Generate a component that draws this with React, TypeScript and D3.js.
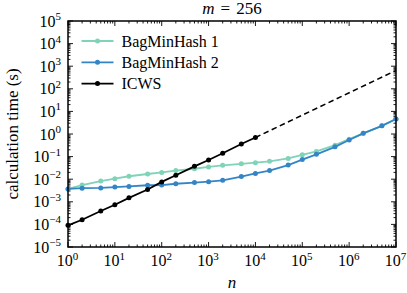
import React from "react";
import * as d3 from "d3";

// set sizes n
const nValues = [
  1, 2, 5, 10, 20, 50, 100, 200, 500, 1e3, 2e3, 5e3, 1e4, 2e4, 5e4, 1e5, 2e5,
  5e5, 1e6, 2e6, 5e6, 1e7,
];
const bagMinHash1 = [
  3.7e-3, 5.5e-3, 8.3e-3, 0.0105, 0.0135, 0.017, 0.02, 0.024, 0.029, 0.035,
  0.041, 0.048, 0.054, 0.062, 0.083, 0.12, 0.17, 0.32, 0.59, 1.07, 2.3, 4.6,
];
const bagMinHash2 = [
  3.7e-3, 4.0e-3, 4.1e-3, 4.5e-3, 4.8e-3, 5.4e-3, 5.5e-3, 6.3e-3, 7.1e-3,
  7.8e-3, 8.9e-3, 0.013, 0.018, 0.024, 0.042, 0.074, 0.126, 0.27, 0.54, 1.07,
  2.3, 4.6,
];
const icwsN = [1, 2, 5, 10, 20, 50, 100, 200, 500, 1e3, 2e3, 5e3, 1e4];
const icws = [
  9.1e-5, 1.6e-4, 3.9e-4, 7.4e-4, 1.5e-3, 3.5e-3, 7.6e-3, 0.015, 0.037, 0.071,
  0.14, 0.36, 0.7,
];
const icwsExtrapN = [1e4, 1e7];
const icwsExtrap = [0.7, 650];

const xExponents = [0, 1, 2, 3, 4, 5, 6, 7];
const yExponents = [-5, -4, -3, -2, -1, 0, 1, 2, 3, 4, 5];

const series = [
  { name: "BagMinHash 1", color: "#7fd3b8", n: nValues, v: bagMinHash1 },
  { name: "BagMinHash 2", color: "#3385c6", n: nValues, v: bagMinHash2 },
  { name: "ICWS", color: "#000000", n: icwsN, v: icws },
];

const W = 407;
const H = 293;
const margin = { top: 21, right: 11, bottom: 46, left: 68 };
const font = "'Liberation Serif', 'DejaVu Serif', serif";

const App: React.FC = () => {
  const iw = W - margin.left - margin.right;
  const ih = H - margin.top - margin.bottom;

  const x = d3.scaleLog().domain([1, 1e7]).range([0, iw]);
  const y = d3.scaleLog().domain([1e-5, 1e5]).range([ih, 0]);

  const line = d3
    .line<[number, number]>()
    .x((d) => x(d[0]))
    .y((d) => y(d[1]));

  const minorX: number[] = [];
  xExponents.slice(0, -1).forEach((e) => {
    for (let k = 2; k <= 9; k++) minorX.push(k * Math.pow(10, e));
  });
  const minorY: number[] = [];
  yExponents.slice(0, -1).forEach((e) => {
    for (let k = 2; k <= 9; k++) minorY.push(k * Math.pow(10, e));
  });

  const major = 5;
  const minor = 2.5;
  const tickFs = 16;
  const supFs = 11;

  return (
    <svg
      width={W}
      height={H}
      style={{ position: "absolute", left: 0, top: 0, background: "#fff" }}
      fontFamily={font}
    >
      <g transform={`translate(${margin.left},${margin.top})`}>
        {/* ticks on all four sides, pointing in */}
        <g stroke="#000" strokeWidth={0.9}>
          {xExponents.map((e) => (
            <g key={"xm" + e}>
              <line x1={x(10 ** e)} x2={x(10 ** e)} y1={ih} y2={ih - major} />
              <line x1={x(10 ** e)} x2={x(10 ** e)} y1={0} y2={major} />
            </g>
          ))}
          {minorX.map((v) => (
            <g key={"xn" + v}>
              <line x1={x(v)} x2={x(v)} y1={ih} y2={ih - minor} />
              <line x1={x(v)} x2={x(v)} y1={0} y2={minor} />
            </g>
          ))}
          {yExponents.map((e) => (
            <g key={"ym" + e}>
              <line x1={0} x2={major} y1={y(10 ** e)} y2={y(10 ** e)} />
              <line x1={iw} x2={iw - major} y1={y(10 ** e)} y2={y(10 ** e)} />
            </g>
          ))}
          {minorY.map((v) => (
            <g key={"yn" + v}>
              <line x1={0} x2={minor} y1={y(v)} y2={y(v)} />
              <line x1={iw} x2={iw - minor} y1={y(v)} y2={y(v)} />
            </g>
          ))}
        </g>

        {/* tick labels */}
        {xExponents.map((e) => (
          <text
            key={"xl" + e}
            x={x(10 ** e) - 0.5}
            y={ih + 19}
            textAnchor="middle"
            fontSize={tickFs}
          >
            10
            <tspan dy={-6.5} fontSize={supFs}>
              {e}
            </tspan>
          </text>
        ))}
        {yExponents.map((e) => (
          <text
            key={"yl" + e}
            x={-7}
            y={y(10 ** e) + 5.5}
            textAnchor="end"
            fontSize={tickFs}
          >
            10
            <tspan dy={-6.5} fontSize={supFs}>
              {e < 0 ? "\u2212" + -e : e}
            </tspan>
          </text>
        ))}

        {/* series */}
        <path
          d={line(icwsExtrapN.map((n, i) => [n, icwsExtrap[i]]) as [number, number][])!}
          fill="none"
          stroke="#000"
          strokeWidth={1.6}
          strokeDasharray="5.5,3.5"
        />
        {series.map((s) => {
          const pts = s.n.map((n, i) => [n, s.v[i]] as [number, number]);
          return (
            <g key={s.name}>
              <path d={line(pts)!} fill="none" stroke={s.color} strokeWidth={1.8} />
              {pts.map((p, i) => (
                <circle key={i} cx={x(p[0])} cy={y(p[1])} r={2.5} fill={s.color} />
              ))}
            </g>
          );
        })}

        {/* frame */}
        <rect x={0} y={0} width={iw} height={ih} fill="none" stroke="#000" strokeWidth={1.5} />

        {/* legend */}
        {series.map((s, i) => {
          const ly = 20 + i * 21.3;
          return (
            <g key={"lg" + s.name} transform={`translate(13.5,${ly})`}>
              <line x1={0} x2={32} y1={0} y2={0} stroke={s.color} strokeWidth={1.8} />
              <circle cx={16} cy={0} r={2.5} fill={s.color} />
              <text x={40} y={5.5} fontSize={16}>
                {s.name}
              </text>
            </g>
          );
        })}
      </g>

      {/* title */}
      <text x={margin.left + iw / 2} y={14} textAnchor="middle" fontSize={17}>
        <tspan fontStyle="italic">m</tspan>
        <tspan dx={6}>=</tspan>
        <tspan dx={6}>256</tspan>
      </text>
      {/* axis labels */}
      <text
        x={margin.left + iw / 2}
        y={288}
        textAnchor="middle"
        fontSize={17}
        fontStyle="italic"
      >
        n
      </text>
      <text
        transform={`translate(18,${margin.top + ih / 2}) rotate(-90)`}
        textAnchor="middle"
        fontSize={17}
      >
        calculation time (s)
      </text>
    </svg>
  );
};

export default App;
